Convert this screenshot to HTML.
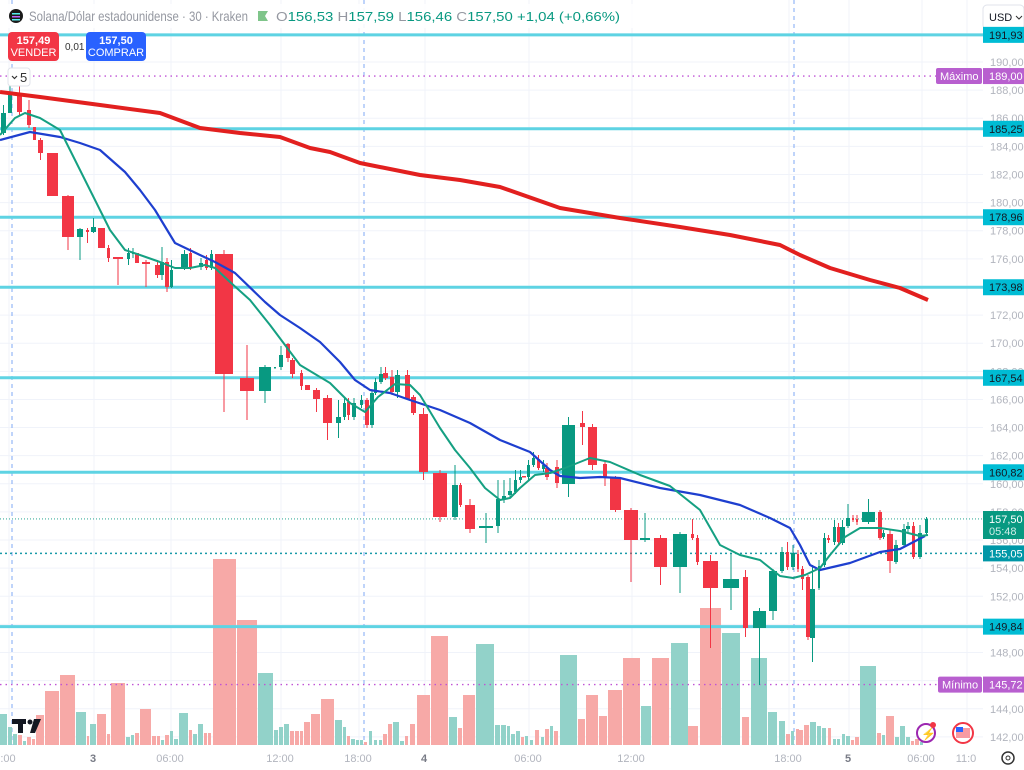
<!DOCTYPE html>
<html><head><meta charset="utf-8"><style>
body{margin:0;background:#fff;font-family:"Liberation Sans",sans-serif;}
svg{display:block}
</style></head><body>
<svg id="s" width="1024" height="770" xmlns="http://www.w3.org/2000/svg" font-family="Liberation Sans, sans-serif">
<rect width="1024" height="770" fill="#fff"/>
<g id="grid"></g>
<g id="vol"></g>
<g id="hl"></g>
<g id="cnd"></g>
<polyline fill="none" stroke="#e2201f" stroke-width="4" stroke-linejoin="round" points="0,92 40,97 100,105 160,113 200,128 240,133 280,137 310,148 330,152 360,163 420,175 460,180 500,187 560,208 620,218 680,227 730,235 780,245 800,255 830,268 870,280 900,288 928,300"/>
<polyline fill="none" stroke="#1e3fcf" stroke-width="2.2" stroke-linejoin="round" points="0,140 30,132 60,137 80,143 100,150 125,172 140,190 155,210 175,243 200,255 215,262 235,273 265,302 280,315 300,328 320,342 340,362 355,380 370,390 390,393 410,400 440,410 470,423 500,440 530,452 550,470 560,476 580,478 600,477 620,478 660,488 700,495 740,505 770,518 790,528 800,545 810,565 820,570 850,563 880,552 900,549 925,536"/>
<polyline fill="none" stroke="#15a082" stroke-width="2" stroke-linejoin="round" points="0,135 15,118 25,113 40,118 60,130 80,170 95,200 110,230 125,250 140,255 160,262 175,268 190,268 205,265 215,268 230,282 250,300 270,325 285,345 300,365 330,383 350,403 365,412 378,397 395,384 410,385 420,395 440,428 455,450 470,468 485,488 500,500 510,498 520,488 535,475 550,473 565,468 590,458 610,462 640,475 670,486 700,510 720,545 740,555 760,560 780,576 793,578 805,575 820,568 830,555 845,537 860,528 880,528 900,531 920,536 928,535"/>
<g id="ax"></g>
<!-- header -->
<rect x="0" y="4" width="640" height="24" fill="#fff" opacity="0.9"/>
<circle cx="16" cy="16" r="7" fill="#1a1a1a"/>
<rect x="12" y="13" width="8" height="1.5" fill="#5ee"/><rect x="12" y="16" width="8" height="1.5" fill="#b6f"/><rect x="12" y="19" width="8" height="1.5" fill="#5ee"/>
<text x="29" y="21" font-size="14" fill="#9598a1" textLength="219" lengthAdjust="spacingAndGlyphs">Solana/Dólar estadounidense · 30 · Kraken</text>
<path d="M258,11 h10 l-3,5 l3,5 h-10z" fill="#7fc58a"/>
<text x="276" y="21" font-size="13" fill="#9598a1" textLength="344" lengthAdjust="spacingAndGlyphs">O<tspan fill="#089981">156,53</tspan> H<tspan fill="#089981">157,59</tspan> L<tspan fill="#089981">156,46</tspan> C<tspan fill="#089981">157,50</tspan> <tspan fill="#089981">+1,04 (+0,66%)</tspan></text>
<rect x="8" y="32" width="51" height="29" rx="4" fill="#f23645"/>
<text x="33.5" y="44" font-size="11" fill="#fff" text-anchor="middle" font-weight="bold">157,49</text>
<text x="33.5" y="56" font-size="11" fill="#fff" text-anchor="middle">VENDER</text>
<text x="65" y="50" font-size="10" fill="#333">0,01</text>
<rect x="86" y="32" width="60" height="29" rx="4" fill="#2962ff"/>
<text x="116" y="44" font-size="11" fill="#fff" text-anchor="middle" font-weight="bold">157,50</text>
<text x="116" y="56" font-size="11" fill="#fff" text-anchor="middle">COMPRAR</text>
<rect x="8" y="68" width="22" height="18" rx="3" fill="#fff" stroke="#e0e3eb"/>
<path d="M12,76 l2.5,2.5 l2.5,-2.5" fill="none" stroke="#333" stroke-width="1.2"/>
<text x="20" y="82" font-size="13" fill="#333">5</text>
<!-- TV logo -->
<rect x="12" y="719" width="14" height="5" fill="#131722"/><rect x="18" y="719" width="5" height="14" fill="#131722"/><circle cx="30" cy="722" r="2.5" fill="#131722"/><path d="M34,719 h7 l-6,14 h-5z" fill="#131722"/>
<circle cx="926" cy="733" r="9" fill="#fff" stroke="#9c27b0" stroke-width="2"/><text x="921" y="738" font-size="12" fill="#9c27b0">⚡</text><circle cx="933" cy="725" r="3" fill="#f23645"/>
<circle cx="963" cy="733" r="10" fill="#fff" stroke="#f23645" stroke-width="2"/><rect x="956" y="728" width="14" height="10" fill="#f23645" opacity=".5"/><rect x="956" y="727" width="7" height="5" fill="#2962ff"/>
<circle cx="1008" cy="758" r="6" fill="none" stroke="#333" stroke-width="1.5"/><circle cx="1008" cy="758" r="2" fill="none" stroke="#333"/>
</svg>
<script>
const NS="http://www.w3.org/2000/svg";
function el(p,t,a,txt){const e=document.createElementNS(NS,t);for(const k in a)e.setAttribute(k,a[k]);if(txt!==undefined)e.textContent=txt;document.getElementById(p).appendChild(e);return e;}
const Y=p=>62+(190-p)*14.06;
for(let p=142;p<=192;p+=2){el("grid","line",{x1:0,x2:983,y1:Y(p),y2:Y(p),stroke:"#f0f3fa","stroke-width":1});}
const tx=[[8,":00"],[93,"3"],[170,"06:00"],[280,"12:00"],[358,"18:00"],[424,"4"],[528,"06:00"],[631,"12:00"],[788,"18:00"],[848,"5"],[921,"06:00"],[966,"11:0"]];
tx.forEach(([x,t])=>{el("grid","line",{x1:x+1,x2:x+1,y1:0,y2:745,stroke:"#f0f3fa"});el("ax","text",{x:x,y:762,"font-size":11,fill:t=="3"||t=="4"||t=="5"?"#787b86":"#b2b5be","text-anchor":"middle","font-weight":t.length<2?"bold":"normal"},t);});
[12,364,794].forEach(x=>el("grid","line",{x1:x,x2:x,y1:0,y2:745,stroke:"#7fa8f5","stroke-dasharray":"4,4"}));
const V=[[0,7,714,1],[8,12,727,1],[13,17,734,1],[18,22,735,0],[23,26,741,1],[27,31,737,0],[32,35,739,0],[36,44,715,0],[45,59,691,0],[60,75,675,0],[76,86,712,1],[87,89,736,0],[90,96,724,1],[97,106,714,0],[107,110,734,0],[111,125,683,0],[126,130,737,1],[131,134,735,1],[135,139,733,0],[140,151,709,0],[152,156,736,0],[157,160,736,0],[161,164,740,1],[165,169,735,0],[170,173,731,1],[174,178,739,1],[179,188,713,1],[189,192,730,0],[193,197,734,1],[198,203,724,1],[204,207,733,0],[208,211,733,0],[213,236,559,0],[237,257,620,0],[258,273,673,1],[274,278,730,1],[279,283,727,1],[284,289,724,1],[290,294,731,0],[295,299,731,0],[300,303,731,0],[304,310,722,0],[311,320,714,0],[321,334,699,0],[335,342,720,1],[343,346,727,1],[347,350,736,0],[351,355,739,1],[356,359,740,1],[360,363,740,1],[364,367,742,0],[369,372,731,1],[374,377,740,1],[379,382,740,1],[383,387,734,0],[388,392,724,0],[393,399,722,1],[400,404,741,1],[405,408,736,0],[410,415,724,0],[417,430,695,0],[431,448,636,0],[449,457,717,1],[458,462,728,0],[463,475,695,0],[476,494,644,1],[495,500,725,1],[501,506,725,1],[507,510,726,1],[511,515,734,1],[516,520,731,1],[521,524,737,0],[525,528,736,1],[530,533,740,1],[535,539,730,0],[541,544,737,1],[545,549,729,0],[550,553,726,1],[554,558,731,0],[560,577,655,1],[578,585,719,0],[586,598,695,0],[599,607,716,0],[608,622,690,0],[623,640,658,0],[641,651,706,1],[652,669,658,0],[671,688,643,1],[688,698,726,0],[700,721,608,0],[722,740,633,1],[742,749,717,0],[751,767,658,1],[768,777,712,1],[779,785,721,1],[786,790,734,0],[791,794,731,1],[796,799,729,0],[799,803,730,0],[804,809,725,0],[810,816,722,1],[817,821,726,1],[822,826,728,1],[828,831,728,0],[833,836,739,1],[837,840,739,1],[842,845,734,1],[846,850,736,1],[851,854,740,0],[855,859,737,0],[860,876,666,1],[877,881,733,0],[882,885,735,1],[886,894,716,0],[895,899,737,1],[900,905,726,1],[906,910,737,1],[911,914,741,0],[915,919,739,0],[920,923,742,1]];
V.forEach(([a,b,t,g])=>el("vol","rect",{x:a,y:t,width:Math.max(b-a,2),height:745-t,fill:g?"#92d2c9":"#f7a9a7"}));
[191.93,185.25,178.96,173.98,167.54,160.82,149.84].forEach(p=>el("hl","line",{x1:0,x2:983,y1:Y(p),y2:Y(p),stroke:"#5ed3e3","stroke-width":3}));
el("hl","line",{x1:0,x2:983,y1:Y(189),y2:Y(189),stroke:"#c054d6","stroke-dasharray":"1.5,4","stroke-width":1.3});
el("hl","line",{x1:0,x2:983,y1:Y(145.72),y2:Y(145.72),stroke:"#c054d6","stroke-dasharray":"1.5,4","stroke-width":1.3});
el("hl","line",{x1:0,x2:983,y1:Y(155.05),y2:Y(155.05),stroke:"#1a9aa8","stroke-dasharray":"2,3","stroke-width":1.5});
el("hl","line",{x1:0,x2:983,y1:Y(157.5),y2:Y(157.5),stroke:"#089981","stroke-dasharray":"1,2","stroke-width":0.8});
const C=[[1,6,113,133,1,105,135],[8,12,92,113,1,80,113],[17,22,93,112,0,85,115],[27,31,110,125,0,100,128],[33,36,127,140,0],[38,43,140,153,0,138,160],[47,58,153,196,0],[62,74,196,237,0,195,250],[77,83,229,237,1,228,260],[86,89,230,232,0,228,243],[91,96,227,232,1,218,233],[98,105,228,248,0],[107,110,248,258,0,245,262],[113,123,257,259,0,257,285],[127,130,253,259,1,248,265],[132,134,252,254,1,248,258],[135,139,253,263,0],[142,150,262,264,0,260,287],[155,160,265,275,0,260,278],[160,164,262,275,1,247,280],[165,169,262,287,0,258,292],[170,173,270,287,1,260,288],[181,188,254,268,1,250,270],[189,192,253,267,0,248,270],[199,203,263,267,1,258,270],[205,208,260,268,0,255,270],[210,213,254,268,1,250,270],[215,233,254,374,0,250,412],[240,254,378,391,0,345,420],[259,271,367,391,1,365,403],[274,276,367,368,1],[279,283,355,367,1,346,370],[286,290,344,358,0,343,362],[290,295,360,374,0,358,378],[300,303,373,386,0,370,390],[305,310,385,390,0],[313,320,390,399,0,388,412],[323,332,398,423,0,395,440],[336,341,417,423,1,400,438],[343,346,403,417,1,398,420],[347,350,402,415,0,398,420],[352,356,403,417,1,398,420],[360,363,400,405,1,395,408],[365,369,400,425,0,398,428],[370,374,393,425,1,390,428],[374,377,382,393,1,378,395],[379,383,374,382,1,367,384],[383,388,373,378,0,367,380],[390,394,377,392,0,370,395],[395,400,375,392,1,370,398],[405,410,375,399,0,370,400],[411,416,397,413,0,395,415],[419,428,414,472,0,408,480],[433,447,473,517,0,470,522],[452,458,485,517,1,465,520],[459,462,485,505,0,483,507],[465,475,505,529,0,499,533],[479,493,526,528,1,513,543],[496,500,499,526,1,480,533],[502,506,496,499,1,480,503],[508,512,491,495,1,478,498],[514,517,480,492,1,470,494],[519,522,477,480,1,470,483],[522,526,476,477,0],[527,530,465,477,1,460,480],[532,535,458,465,1,452,467],[537,540,459,468,0,455,470],[542,545,465,469,1,460,472],[545,549,468,477,0,463,480],[555,559,467,483,0,460,488],[562,575,425,484,1,417,497],[580,585,423,427,0,411,445],[588,597,427,465,0,424,470],[603,607,464,477,0,460,486],[610,621,478,510,0,476,512],[624,638,510,540,0,508,582],[640,650,538,540,1,513,542],[654,667,538,567,0,535,585],[673,687,534,567,1,532,593],[691,694,534,538,0,519,540],[696,699,538,562,0,535,565],[703,718,561,588,0,555,648],[723,739,579,588,1,553,610],[743,748,577,628,0,570,637],[753,766,611,628,1,608,685],[769,777,571,611,1,569,620],[780,784,552,571,1,547,573],[786,789,552,567,0,542,570],[791,795,553,567,1,545,570],[797,799,554,569,0,550,572],[801,804,569,579,0,566,590],[806,810,577,637,0,575,640],[810,815,589,638,1,565,662],[818,820,566,588,1,560,590],[823,826,538,565,1,533,567],[827,830,538,540,0,535,543],[833,836,527,542,1,520,545],[837,840,527,542,0,523,545],[840,845,527,543,1,520,545],[846,850,518,526,1,504,528],[852,854,518,520,0,515,522],[856,858,519,522,0,515,525],[862,875,512,522,1,499,524],[878,882,512,538,0,510,540],[882,885,533,537,1,530,539],[887,893,534,561,0,530,573],[894,898,545,562,1,540,564],[902,906,529,545,1,524,547],[906,910,526,529,1,522,532],[912,915,526,557,0,522,559],[918,922,533,557,1,525,559],[925,928,519,533,1,517,535]];
C.forEach(([a,b,t,bt,g,wt,wb])=>{const col=g?"#089981":"#f23645";const cx=(a+b)/2;
 el("cnd","line",{x1:cx,x2:cx,y1:wt===undefined?t:wt,y2:wb===undefined?bt:wb,stroke:col,"stroke-width":1});
 el("cnd","rect",{x:a,y:t,width:Math.max(b-a,2),height:Math.max(bt-t,1.5),fill:col});});
el("ax","rect",{x:983,y:30,width:41,height:715,fill:"#fff"});
el("ax","rect",{x:983,y:5,width:41,height:24,rx:4,fill:"#fff",stroke:"#e0e3eb"});
el("ax","text",{x:989,y:21,"font-size":11,fill:"#131722"},"USD");
el("ax","path",{d:"M1016,16 l3,3 l3,-3",fill:"none",stroke:"#333"});
for(let p=142;p<=190;p+=2){el("ax","text",{x:990,y:Y(p)+4,"font-size":11,fill:"#b2b5be"},p.toFixed(2).replace(".",","));}
function lab(p,t,bg,fg){el("ax","rect",{x:983,y:Y(p)-8,width:41,height:16,fill:bg});el("ax","text",{x:989,y:Y(p)+4,"font-size":11,fill:fg},t);}
[[191.93,"191,93"],[185.25,"185,25"],[178.96,"178,96"],[173.98,"173,98"],[167.54,"167,54"],[160.82,"160,82"],[149.84,"149,84"]].forEach(([p,t])=>lab(p,t,"#00bcd4","#131722"));
lab(189,"189,00","#b85fcf","#fff");lab(145.72,"145,72","#b85fcf","#fff");
el("ax","rect",{x:936,y:Y(189)-8,width:46,height:16,fill:"#b85fcf",rx:2});el("ax","text",{x:940,y:Y(189)+4,"font-size":11,fill:"#fff"},"Máximo");
el("ax","rect",{x:938,y:Y(145.72)-8,width:44,height:16,fill:"#b85fcf",rx:2});el("ax","text",{x:942,y:Y(145.72)+4,"font-size":11,fill:"#fff"},"Mínimo");
el("ax","rect",{x:983,y:511,width:41,height:28,fill:"#089981"});
el("ax","text",{x:989,y:523,"font-size":11,fill:"#fff"},"157,50");el("ax","text",{x:989,y:535,"font-size":11,fill:"#cfeee8"},"05:48");
lab(155.05,"155,05","#0097a7","#fff");
</script>
</body></html>
